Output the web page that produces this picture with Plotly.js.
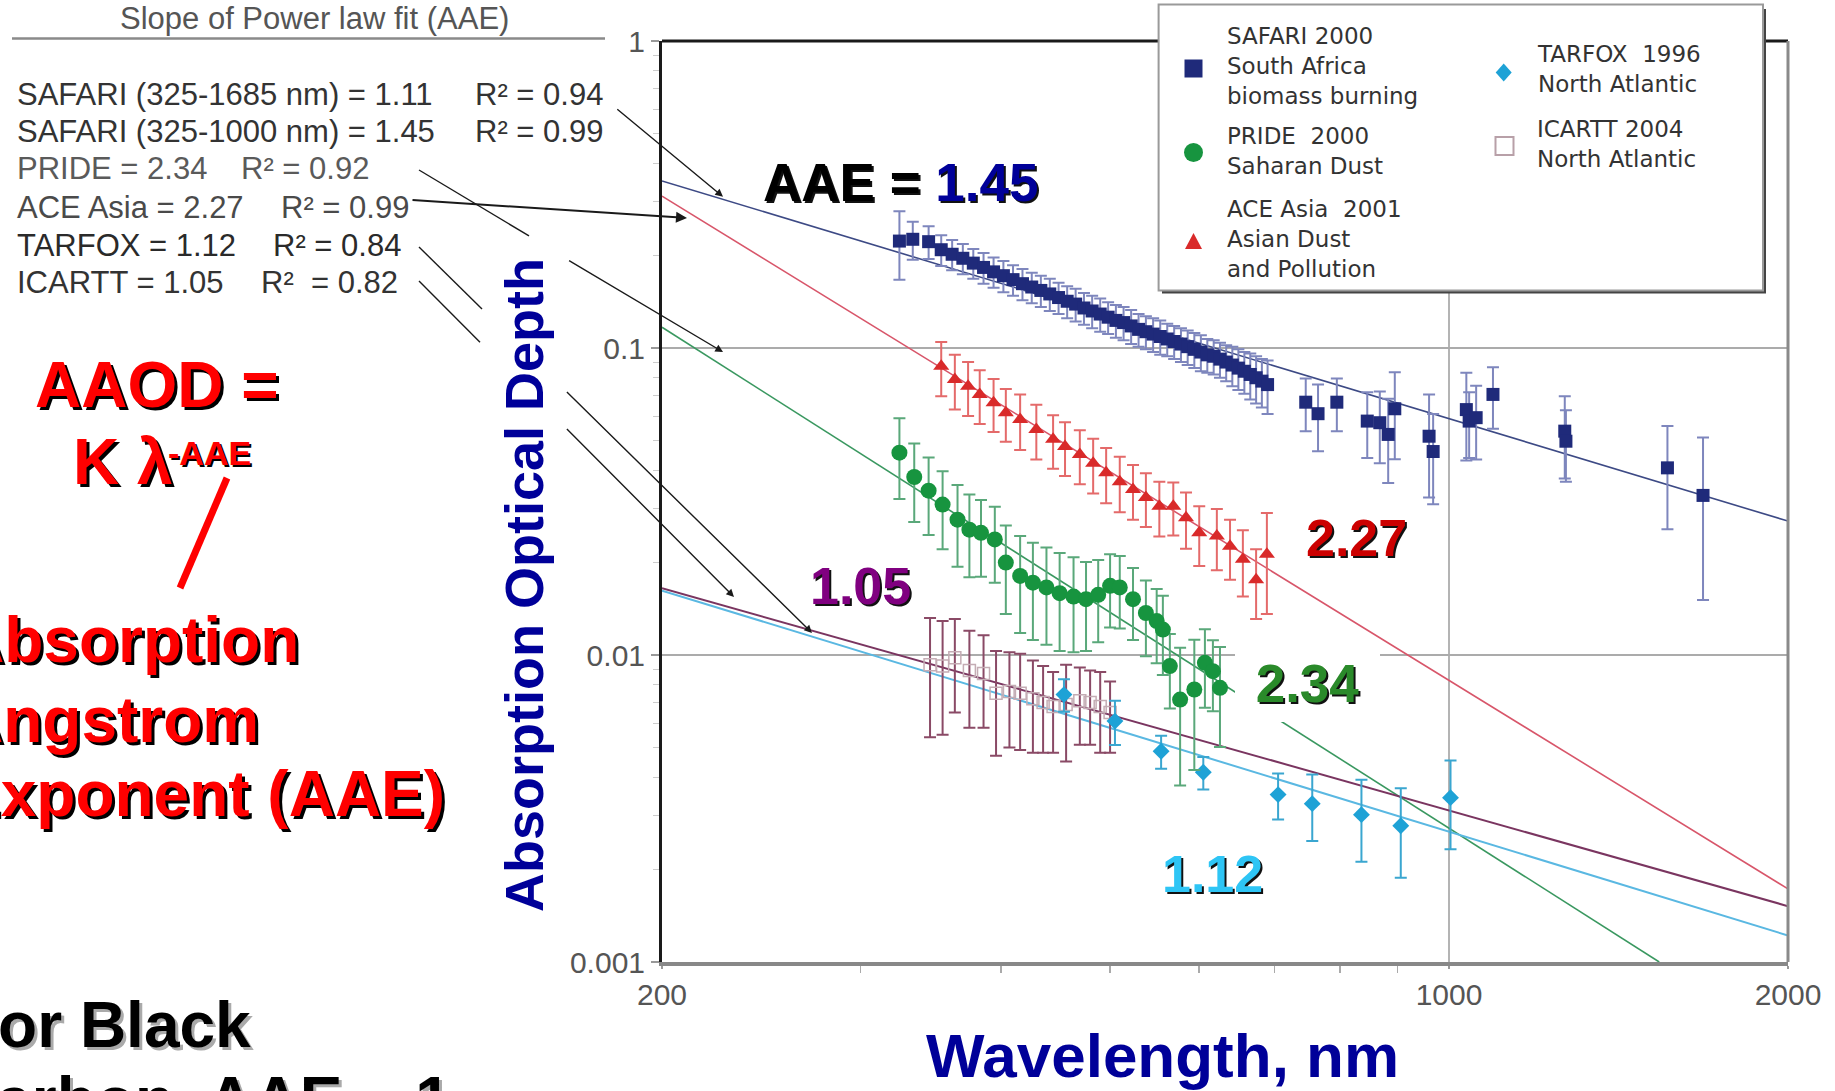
<!DOCTYPE html>
<html><head><meta charset="utf-8">
<script src="https://cdn.plot.ly/plotly-3.0.1.min.js"></script>
<style>html,body{margin:0;padding:0;background:#fff;}#chart{width:1835px;height:1091px;}</style>
</head><body><div id="chart"></div>
<script>
// ---------------- DATA ----------------
const SAFARI_WL = [325,334,345,354,362,370,378,386,394,402,410,418,426,434,442,450,458,466,474,482,490,498,506,514,522,530,538,546,554,562,570,578,586,594,602,610,618,626,634,642,650,658,666,674,682,690,
  746,765,795,846,868,883,895,960,968,1036,1042,1057,1094,1267,1270,1563,1681];
const SAFARI_AOD = [0.223,0.226,0.222,0.209,0.202,0.196,0.189,0.183,0.177,0.172,0.167,0.162,0.158,0.154,0.150,0.146,0.142,0.139,0.135,0.132,0.129,0.126,0.123,0.121,0.118,0.115,0.113,0.111,0.109,0.107,0.105,0.103,0.101,0.099,0.097,0.095,0.094,0.092,0.090,0.088,0.086,0.084,0.082,0.080,0.078,0.076,
  0.0666,0.0611,0.0666,0.0578,0.0571,0.0523,0.0634,0.0516,0.0460,0.0630,0.0578,0.0593,0.0706,0.0536,0.0497,0.0407,0.0331];
const SAFARI_ERR = [0.056,0.032,0.027,0.024,0.023,0.022,0.021,0.021,0.020,0.020,0.019,0.019,0.018,0.018,0.018,0.017,0.017,0.017,0.016,0.016,0.016,0.015,0.015,0.015,0.015,0.014,0.014,0.014,0.014,0.013,0.013,0.013,0.013,0.013,0.013,0.012,0.012,0.012,0.012,0.013,0.013,0.013,0.014,0.014,0.014,0.015,
  0.013,0.015,0.013,0.014,0.015,0.016,0.020,0.019,0.015,0.020,0.014,0.016,0.016,0.016,0.013,0.015,0.018];

const ACE_WL  = [354,364,374,383,394,404,416,430,445,456,470,483,496,510,524,538,553,569,584,600,622,639,656,674,689];
const ACE_AOD = [0.0872,0.0790,0.0751,0.0706,0.0663,0.0615,0.0585,0.0543,0.0504,0.0478,0.0450,0.0421,0.0392,0.0367,0.0346,0.0326,0.0305,0.0305,0.0280,0.0250,0.0244,0.0226,0.0205,0.0176,0.0213];
const ACE_ERR = [0.0175,0.016,0.015,0.014,0.013,0.012,0.012,0.011,0.010,0.0095,0.009,0.0085,0.008,0.0075,0.007,0.0065,0.0062,0.006,0.0058,0.0055,0.0055,0.005,0.005,0.0045,0.0077];

const PRIDE_WL  = [325,335,345,355,366,375,384,395,404,416,427,439,451,464,476,488,500,510,524,538,550,557,565,577,594,607,617,626];
const PRIDE_AOD = [0.0456,0.0380,0.0343,0.0309,0.0276,0.0256,0.0250,0.0238,0.0200,0.0181,0.0172,0.0166,0.0159,0.0155,0.0152,0.0157,0.0168,0.0166,0.0152,0.0137,0.0129,0.0121,0.0092,0.00716,0.00772,0.00943,0.00886,0.00782];
const PRIDE_ERR = [0.0134,0.0109,0.0097,0.0088,0.0082,0.0077,0.0070,0.0066,0.0064,0.0063,0.0060,0.0058,0.0056,0.0053,0.0049,0.0047,0.0045,0.0044,0.0040,0.0038,0.0035,0.0035,0.0025,0.0034,0.0035,0.0027,0.0023,0.0028];

const ICARTT_WL  = [346,355,364,375,386,396,407,416,427,436,445,457,470,480,490,500];
const ICARTT_AOD = [0.0093,0.0092,0.0098,0.0089,0.0087,0.0075,0.0076,0.0075,0.0072,0.0070,0.0068,0.0069,0.0071,0.0070,0.0068,0.0065];
const ICARTT_ERR = [0.0039,0.0037,0.0033,0.0031,0.0029,0.0028,0.0026,0.0026,0.0024,0.0022,0.0020,0.0024,0.0020,0.0019,0.0020,0.0017];

const TARFOX_WL  = [455,505,555,605,705,756,836,906,1003];
const TARFOX_AOD = [0.00743,0.00609,0.00486,0.00415,0.00351,0.00328,0.00302,0.00278,0.00343];
const TARFOX_ERR = [0.0009,0.0010,0.0006,0.0005,0.0006,0.0008,0.0009,0.0009,0.0011];

// power-law fit lines (end points)
const FIT_SAFARI_WL = [200,2000],  FIT_SAFARI_AOD = [0.350,0.0273];
const FIT_ACE_WL    = [200,2000],  FIT_ACE_AOD    = [0.3125,0.00173];
const FIT_PRIDE_WL  = [200,1537],  FIT_PRIDE_AOD  = [0.1169,0.001];
const FIT_ICARTT_WL = [200,2000],  FIT_ICARTT_AOD = [0.0165,0.00152];
const FIT_TARFOX_WL = [200,2000],  FIT_TARFOX_AOD = [0.0162,0.00122];

// axis ticks
const X_TICKS = [200,1000,2000];
const X_TICK_TEXT = ['200','1000','2000'];
const X_MINOR = [300,400,500,600,700,800,900];
const Y_TICKS = [0.001,0.01,0.1,1];
const Y_TICK_TEXT = ['0.001','0.01','0.1','1'];
const Y_MINOR = [0.002,0.003,0.004,0.005,0.006,0.007,0.008,0.009,0.02,0.03,0.04,0.05,0.06,0.07,0.08,0.09,0.2,0.3,0.4,0.5,0.6,0.7,0.8,0.9];

// text content
const FIT_ROWS = [
  ['SAFARI (325-1685 nm) = 1.11','R² = 0.94'],
  ['SAFARI (325-1000 nm) = 1.45','R² = 0.99'],
  ['PRIDE = 2.34','R² = 0.92'],
  ['ACE Asia = 2.27','R² = 0.99'],
  ['TARFOX = 1.12','R² = 0.84'],
  ['ICARTT = 1.05','R²\u00a0 = 0.82']
];
const LEGEND_ENTRIES = [
  'SAFARI 2000<br>South Africa<br>biomass burning',
  'PRIDE\u00a0 2000<br>Saharan Dust',
  'ACE Asia\u00a0 2001<br>Asian Dust<br>and Pollution',
  'TARFOX\u00a0 1996<br>North Atlantic',
  'ICARTT 2004<br>North Atlantic'
];

// ---------------- LAYOUT HELPERS ----------------
const PX0 = 662, PY0 = 41, PW = 1126, PH = 921;
const px = X => (X - PX0) / PW;
const py = Y => (PY0 + PH - Y) / PH;
const FONT = 'Liberation Sans, Arial, sans-serif';
const LEGFONT = 'DejaVu Sans, Liberation Sans, sans-serif';

function txt(text, X, Y, size, color, o) {
  o = o || {};
  return {
    text: text, x: px(X), y: py(Y), xref: 'paper', yref: 'paper', showarrow: false,
    xanchor: o.anchor || 'center', yanchor: 'middle', align: o.align || 'center',
    borderpad: 0, borderwidth: 0,
    textangle: o.angle || 0,
    bgcolor: o.bg || 'rgba(0,0,0,0)',
    width: o.width, height: o.height,
    font: {family: o.family || FONT, size: size, color: color, weight: o.weight || 400, shadow: o.shadow || 'none'}
  };
}
function arrow(tx, ty, hx, hy, w) {
  return {text: '', x: px(hx), y: py(hy), xref: 'paper', yref: 'paper', showarrow: true,
    ax: tx - hx, ay: ty - hy, arrowhead: 2, arrowsize: 1.1, arrowwidth: w || 1.4, arrowcolor: '#1a1a1a', standoff: 0};
}
function seg(x0, y0, x1, y1, color, w) {
  return {type: 'line', xref: 'paper', yref: 'paper', x0: px(x0), y0: py(y0), x1: px(x1), y1: py(y1),
    line: {color: color, width: w}, layer: 'above'};
}

// ---------------- TRACES ----------------
function fit(x, y, color, w) {
  return {x: x, y: y, type: 'scatter', mode: 'lines', line: {color: color, width: w}, hoverinfo: 'skip'};
}
function pts(x, y, e, sym, size, mcol, ecol, extra) {
  return {x: x, y: y, type: 'scatter', mode: 'markers',
    marker: Object.assign({symbol: sym, size: size, color: mcol}, extra || {}),
    error_y: {type: 'data', array: e, visible: true, color: ecol, thickness: 2, width: 6}};
}
const traces = [
  fit(FIT_SAFARI_WL, FIT_SAFARI_AOD, '#3d4a85', 1.6),
  fit(FIT_ACE_WL, FIT_ACE_AOD, '#d8566a', 1.6),
  fit(FIT_PRIDE_WL, FIT_PRIDE_AOD, '#3a9860', 1.6),
  fit(FIT_ICARTT_WL, FIT_ICARTT_AOD, '#7a3560', 2),
  fit(FIT_TARFOX_WL, FIT_TARFOX_AOD, '#5ab8e2', 2),
  pts(ICARTT_WL, ICARTT_AOD, ICARTT_ERR, 'square-open', 12, '#c4acb4', '#8a4a66', {line: {width: 1.5, color: '#c4acb4'}}),
  pts(TARFOX_WL, TARFOX_AOD, TARFOX_ERR, 'diamond', 13, '#1ea2d6', '#3aa6d0'),
  pts(PRIDE_WL, PRIDE_AOD, PRIDE_ERR, 'circle', 16, '#17943f', '#5aa87a'),
  pts(ACE_WL, ACE_AOD, ACE_ERR, 'triangle-up', 14, '#d92a2a', '#e46a6a'),
  pts(SAFARI_WL, SAFARI_AOD, SAFARI_ERR, 'square', 13, '#1f2a7a', '#7e86bd')
];

// ---------------- ANNOTATIONS ----------------
const ann = [];
// left panel
ann.push(txt('Slope of Power law fit (AAE)', 314, 18.3, 31, '#555'));
const rowY = [94, 131, 169, 207.5, 245, 282.5];
const rowR = [474.5, 474.5, 241, 280.7, 272.8, 261];
const rowCol = ['#333', '#333', '#5a5a5a', '#4a4a4a', '#2a2a2a', '#333'];
FIT_ROWS.forEach((r, i) => {
  ann.push(txt(r[0], 16.6, rowY[i], 31, rowCol[i], {anchor: 'left'}));
  ann.push(txt(r[1], rowR[i], rowY[i], 31, rowCol[i], {anchor: 'left'}));
});
// arrows from the fit table to the lines
ann.push(arrow(615.8, 108, 723, 196.7, 1.4));
ann.push(arrow(411, 200, 687, 218, 2));
ann.push(arrow(567.6, 259.8, 723, 352, 1.4));
ann.push(arrow(565.4, 390.6, 812, 633, 1.4));
ann.push(arrow(565.4, 427.4, 734, 597, 1.4));

// red formula block
const RS = '3px 3px 0px #000';
ann.push(txt('AAOD =', 157, 385, 64, '#ff0000', {weight: 700, shadow: RS}));
ann.push(txt('K λ', 73, 461.7, 64, '#ff0000', {anchor: 'left', weight: 700, shadow: RS}));
ann.push(txt('-AAE', 168, 453, 34, '#ff0000', {anchor: 'left', weight: 700, shadow: '2px 2px 0px #000'}));
ann.push(txt('Absorption', 298.5, 640, 64, '#ff0000', {anchor: 'right', weight: 700, shadow: RS}));
ann.push(txt('Angstrom', 259, 720, 64, '#ff0000', {anchor: 'right', weight: 700, shadow: RS}));
ann.push(txt('Exponent (AAE)', 444.8, 794, 64, '#ff0000', {anchor: 'right', weight: 700, shadow: RS}));
ann.push(txt('For Black', 251, 1025, 64, '#000', {anchor: 'right', weight: 700, shadow: '3px 3px 0px #aaa'}));
ann.push(txt('Carbon, AAE ~ 1', 451, 1100, 64, '#000', {anchor: 'right', weight: 700, shadow: '3px 3px 0px #aaa'}));

// axis titles
ann.push(txt('Absorption Optical Depth', 524, 585, 54, '#000099', {angle: -90, weight: 700}));
ann.push(txt('Wavelength, nm', 1162.7, 1055.5, 62, '#000099', {weight: 700}));

// in-plot labels
const NS = '2px 2px 0px #111';
ann.push(txt('AAE = <span style="color:#000099">1.45</span>', 900, 182.5, 53, '#000', {weight: 700, shadow: NS}));
ann.push(txt('2.27', 1356, 538, 52, '#cc0000', {weight: 700, shadow: NS}));
ann.push(txt('2.34', 1307.5, 683.5, 53, '#2a8a2a', {weight: 700, shadow: NS, bg: '#ffffff', width: 145, height: 77}));
ann.push(txt('1.05', 860, 586, 52, '#800080', {weight: 700, shadow: NS}));
ann.push(txt('1.12', 1212.5, 874, 52, '#2ec5f5', {weight: 700, shadow: NS}));

// legend text (one multi-line block per entry)
const LEG_X = [1226.7, 1226.7, 1226.7, 1536.7, 1536.7];
const LEG_Y = [66, 151, 239, 69, 143.5];
LEGEND_ENTRIES.forEach((t, i) => ann.push(txt(t, LEG_X[i], LEG_Y[i], 23, '#333', {anchor: 'left', align: 'left', family: LEGFONT})));

// ---------------- SHAPES ----------------
const shapes = [
  {type: 'line', xref: 'paper', yref: 'paper', x0: 0, x1: 1, y0: 1, y1: 1, line: {color: '#1a1a1a', width: 3}, layer: 'above'},
  {type: 'line', xref: 'paper', yref: 'paper', x0: 1, x1: 1, y0: 0, y1: 1, line: {color: '#8a8a8a', width: 3}, layer: 'above'},
  seg(12, 38.6, 605, 38.6, '#8a8a8a', 2.5),
  seg(419, 170, 529, 235.9, '#1a1a1a', 1.4),
  seg(419, 247, 482, 308.9, '#1a1a1a', 1.4),
  seg(419, 281, 480, 342.2, '#1a1a1a', 1.4),
  seg(227, 478, 180, 588, '#ff0000', 7),
  {type: 'rect', xref: 'paper', yref: 'paper', x0: px(1162), y0: py(9), x1: px(1766), y1: py(293.5),
    fillcolor: '#444', line: {width: 0}, layer: 'above'},
  {type: 'rect', xref: 'paper', yref: 'paper', x0: px(1158.6), y0: py(4.5), x1: px(1763), y1: py(290.5),
    fillcolor: '#ffffff', line: {color: '#9a9a9a', width: 2}, layer: 'above'},
  {type: 'rect', xref: 'paper', yref: 'paper', x0: px(1184.5), y0: py(59.5), x1: px(1202.5), y1: py(77.5),
    fillcolor: '#1f2a7a', line: {width: 0}, layer: 'above'},
  {type: 'circle', xref: 'paper', yref: 'paper', x0: px(1184), y0: py(143), x1: px(1203), y1: py(162),
    fillcolor: '#17943f', line: {width: 0}, layer: 'above'},
  {type: 'path', xref: 'paper', yref: 'paper',
    path: `M ${px(1193.5)} ${py(233)} L ${px(1202)} ${py(249)} L ${px(1185)} ${py(249)} Z`,
    fillcolor: '#d92a2a', line: {width: 0}, layer: 'above'},
  {type: 'path', xref: 'paper', yref: 'paper',
    path: `M ${px(1503.7)} ${py(63.5)} L ${px(1511.7)} ${py(72.5)} L ${px(1503.7)} ${py(81.5)} L ${px(1495.7)} ${py(72.5)} Z`,
    fillcolor: '#1ea2d6', line: {width: 0}, layer: 'above'},
  {type: 'rect', xref: 'paper', yref: 'paper', x0: px(1495.5), y0: py(137), x1: px(1513.5), y1: py(155),
    fillcolor: '#ffffff', line: {color: '#b8a0a8', width: 2}, layer: 'above'}
];

const layout = {
  width: 1835, height: 1091,
  margin: {l: PX0, r: 1835 - PX0 - PW, t: PY0, b: 1091 - PY0 - PH, pad: 0},
  paper_bgcolor: '#ffffff', plot_bgcolor: '#ffffff',
  showlegend: false, hovermode: false,
  font: {family: FONT, color: '#555'},
  xaxis: {
    type: 'log', range: [Math.log10(200), Math.log10(2000)],
    tickmode: 'array', tickvals: X_TICKS, ticktext: X_TICK_TEXT,
    ticks: 'outside', ticklen: 3, tickwidth: 2, tickcolor: '#999',
    tickfont: {family: FONT, size: 30, color: '#555'},
    showline: true, linecolor: '#888', linewidth: 4, mirror: false,
    showgrid: true, gridcolor: '#b4b4b4', gridwidth: 2, zeroline: false,
    minor: {tickmode: 'array', tickvals: X_MINOR, ticks: 'outside', ticklen: 7, tickwidth: 1.5, tickcolor: '#aaa', showgrid: false}
  },
  yaxis: {
    type: 'log', range: [-3, 0],
    tickmode: 'array', tickvals: Y_TICKS, ticktext: Y_TICK_TEXT,
    ticks: 'outside', ticklen: 8, tickwidth: 2, tickcolor: '#999',
    tickfont: {family: FONT, size: 30, color: '#555'},
    showline: true, linecolor: '#1a1a1a', linewidth: 3, mirror: false,
    showgrid: true, gridcolor: '#ababab', gridwidth: 2, zeroline: false,
    minor: {tickmode: 'array', tickvals: Y_MINOR, ticks: 'outside', ticklen: 6, tickwidth: 1, tickcolor: '#ccc', showgrid: false}
  },
  annotations: ann,
  shapes: shapes
};

Plotly.newPlot('chart', traces, layout, {staticPlot: true, displayModeBar: false});
</script>
</body></html>
